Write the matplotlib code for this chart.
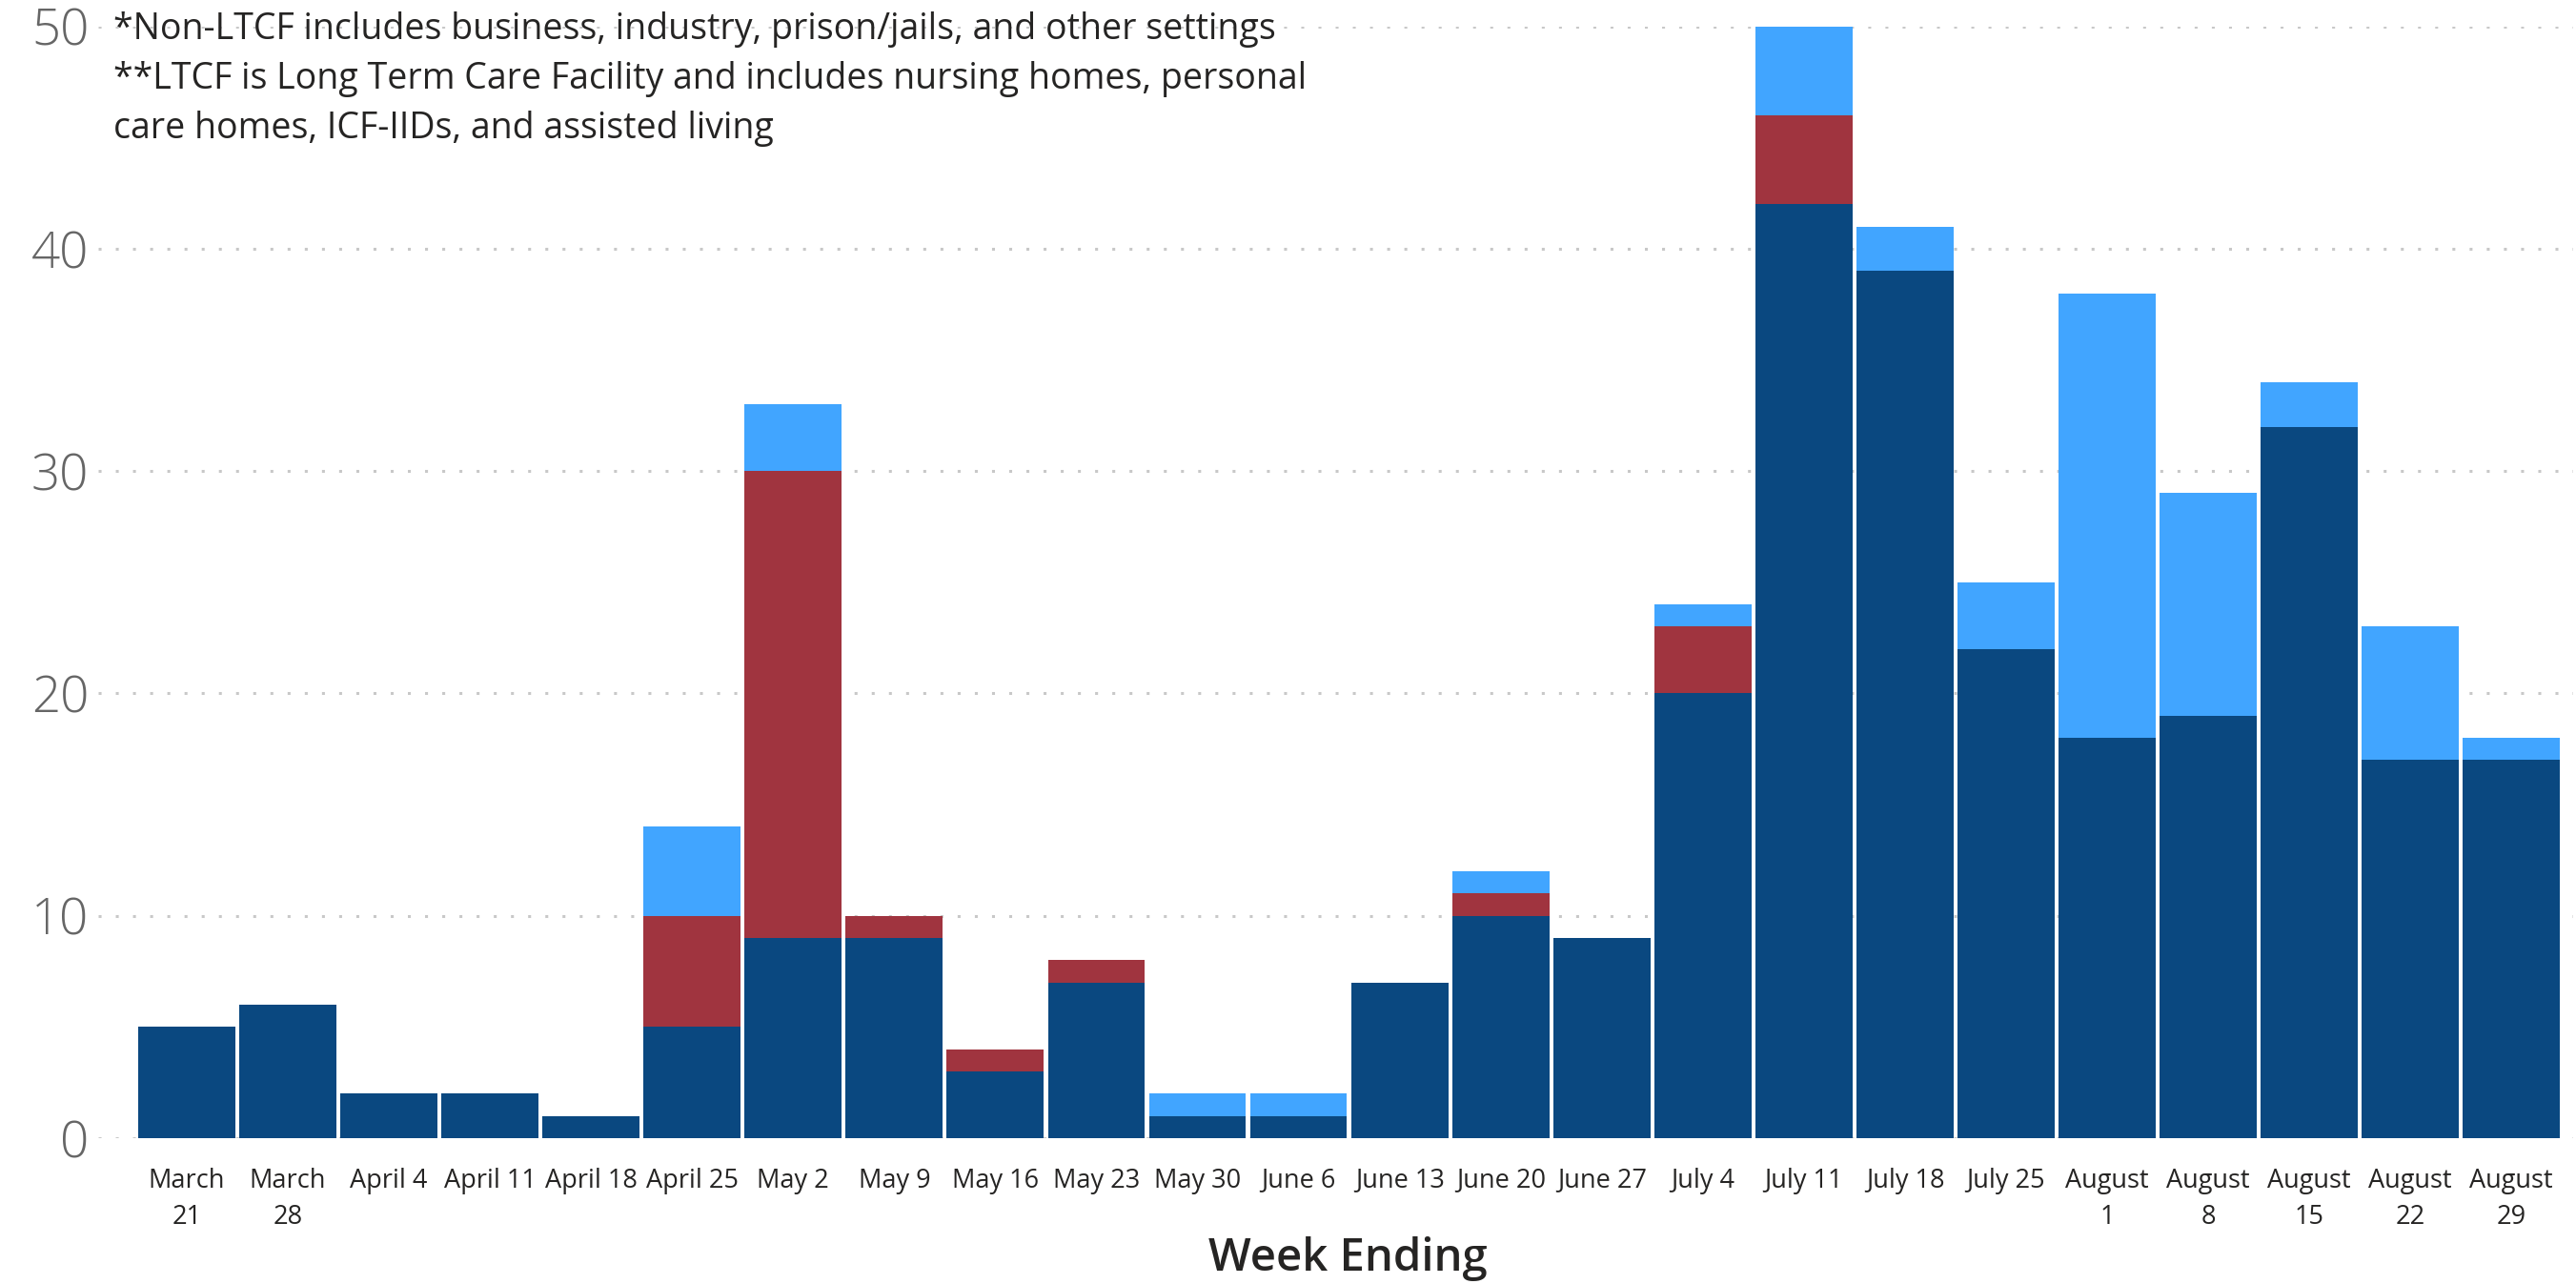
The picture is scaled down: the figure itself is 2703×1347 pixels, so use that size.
import matplotlib.pyplot as plt
import numpy as np

# week labels (two-line where the reference wraps)
weeks = ["March\n21", "March\n28", "April 4", "April 11", "April 18", "April 25",
         "May 2", "May 9", "May 16", "May 23", "May 30", "June 6", "June 13",
         "June 20", "June 27", "July 4", "July 11", "July 18", "July 25",
         "August\n1", "August\n8", "August\n15", "August\n22", "August\n29"]

# stacked series, bottom to top
dark_series = [5, 6, 2, 2, 1, 5, 9, 9, 3, 7, 1, 1, 7, 10, 9, 20, 42, 39, 22, 18, 19, 32, 17, 17]
red_series = [0, 0, 0, 0, 0, 5, 21, 1, 1, 1, 0, 0, 0, 1, 0, 3, 4, 0, 0, 0, 0, 0, 0, 0]
light_series = [0, 0, 0, 0, 0, 4, 3, 0, 0, 0, 1, 1, 0, 1, 0, 1, 4, 2, 3, 20, 10, 2, 6, 1]

y_ticks = [0, 10, 20, 30, 40, 50]

note = ("*Non-LTCF includes business, industry, prison/jails, and other settings\n"
        "**LTCF is Long Term Care Facility and includes nursing homes, personal\n"
        "care homes, ICF-IIDs, and assisted living")

plt.rcParams['font.family'] = ['Open Sans', 'DejaVu Sans']

W, H = 2703, 1347
fig = plt.figure(figsize=(W / 100, H / 100), dpi=100)
ax = fig.add_axes([103 / W, (H - 1194) / H, (2700 - 103) / W, (1194 - 27.6) / H])

x = np.arange(len(weeks))
dark = np.array(dark_series)
red = np.array(red_series)
light = np.array(light_series)

bw = 0.96
ax.bar(x, dark, width=bw, color='#0A4880', zorder=3)
ax.bar(x, red, width=bw, bottom=dark, color='#A0343F', zorder=3)
ax.bar(x, light, width=bw, bottom=dark + red, color='#41A5FF', zorder=3)

ax.set_ylim(0, 50)
ax.set_xlim(-0.876, 23.61)
ax.set_yticks(y_ticks)
ax.set_yticklabels([str(t) for t in y_ticks], fontsize=38, color='#666666', fontweight='light')
ax.set_xticks(x)
ax.set_xticklabels(weeks, fontsize=19.5, color='#252423', linespacing=1.5, va='top')
ax.tick_params(axis='both', length=0)
ax.tick_params(axis='y', pad=7)
ax.tick_params(axis='x', pad=22)

ax.yaxis.grid(True, color='#C8C8C8', linewidth=2.2, linestyle=(0, (1, 4.9)), zorder=0)
ax.set_axisbelow(True)
for s in ax.spines.values():
    s.set_visible(False)

# axis title placed directly under the tick labels
fig.text(1414 / W, 1 - 1320 / H, "Week Ending", fontsize=34, color='#252423',
         fontweight='semibold', ha='center', va='center')

fig.text(119 / W, 1 - 12 / H, note, fontsize=27, color='#252423', va='top', ha='left',
         linespacing=1.48)

fig.savefig("out.png", dpi=100)
